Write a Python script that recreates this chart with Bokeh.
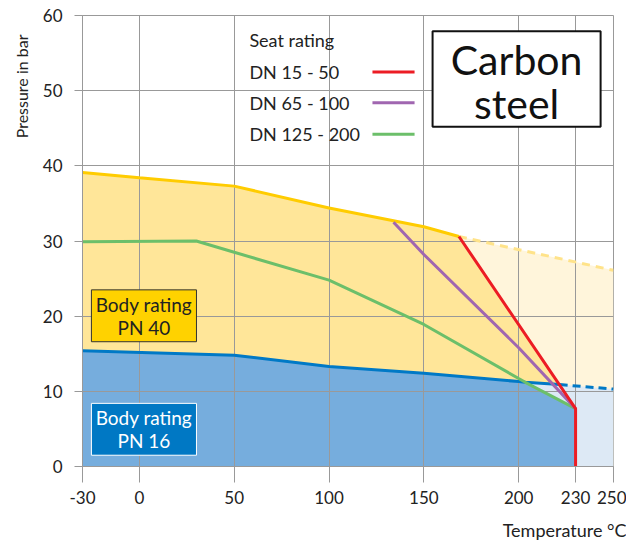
from bokeh.plotting import figure
from bokeh.models import FixedTicker, Label, BoxAnnotation, Range1d, Title
from bokeh.embed import file_html
from bokeh.resources import INLINE

# ---------------- data ----------------
x_ticks = [-30, 0, 50, 100, 150, 200, 230, 250]
y_ticks = [0, 10, 20, 30, 40, 50, 60]

# Body rating PN 40 (upper limit), solid part and extrapolated dashed part
pn40_t = [-30, 0, 50, 100, 150, 168.5]
pn40_p = [39.1, 38.4, 37.3, 34.4, 31.9, 30.6]
pn40_ext_t = [168.5, 250]
pn40_ext_p = [30.6, 26.1]

# Body rating PN 16
pn16_t = [-30, 50, 100, 150, 200, 203.5, 221.6]
pn16_p = [15.4, 14.8, 13.3, 12.4, 11.3, 11.2, 10.9]
pn16_ext_t = [221.6, 250]
pn16_ext_p = [10.9, 10.3]

# Seat ratings
dn15_t = [168.5, 230, 230]
dn15_p = [30.6, 7.7, -0.5]
dn65_t = [134, 150, 200, 230]
dn65_p = [32.5, 28.2, 15.8, 7.7]
dn125_t = [-30, 30, 50, 100, 150, 200, 203.5, 230]
dn125_p = [29.9, 30.0, 28.5, 24.8, 18.9, 11.7, 11.2, 7.7]

legend_title = "Seat rating"
legend_labels = ["DN 15 - 50", "DN 65 - 100", "DN 125 - 200"]

# ---------------- styles ----------------
FONT = "Lato"
C_YEL_LINE = "#FFCC00"
C_YEL_FILL = "#FFE699"
C_YEL_LIGHT = "#FFF5DB"
C_YEL_DASH = "#FFE38A"
C_BLU_LINE = "#0079C6"
C_BLU_FILL = "#76ADDD"
C_BLU_LIGHT = "#DDE9F5"
C_RED = "#EC1C24"
C_PUR = "#A066B0"
C_GRN = "#6CBF6A"
C_GRID = "#999999"
C_TXT = "#222222"
series_colors = [C_RED, C_PUR, C_GRN]

p = figure(width=626, height=541, output_backend="svg", toolbar_location=None,
           x_range=Range1d(-30, 250), y_range=Range1d(0, 60),
           min_border_left=82, min_border_right=13, min_border_top=15, min_border_bottom=75)
p.background_fill_color = "white"
p.border_fill_color = "white"
p.outline_line_color = C_GRID

# ---------------- fills ----------------
ly_x = pn40_ext_t + [pn40_ext_t[-1], pn40_ext_t[0]]
ly_y = pn40_ext_p + [0, 0]
p.patch(ly_x, ly_y, fill_color=C_YEL_LIGHT, line_color=None, level="image")

lb_x = [pn16_t[-2]] + pn16_ext_t + [pn16_ext_t[-1], pn16_t[-2]]
lb_y = [pn16_p[-2]] + pn16_ext_p + [0, 0]
p.patch(lb_x, lb_y, fill_color=C_BLU_LIGHT, line_color=None, level="image")

dy_x = pn40_t + [pn16_t[-1]] + pn16_t[::-1]
dy_y = pn40_p + [pn16_p[-1]] + pn16_p[::-1]
p.patch(dy_x, dy_y, fill_color=C_YEL_FILL, line_color=None, level="image")

db_x = pn16_t[:-1] + dn125_t[-1:] + [dn125_t[-1], pn16_t[0]]
db_y = pn16_p[:-1] + dn125_p[-1:] + [0, 0]
p.patch(db_x, db_y, fill_color=C_BLU_FILL, line_color=None, level="image")

# ---------------- lines ----------------
p.line(pn40_ext_t, pn40_ext_p, line_color=C_YEL_DASH, line_width=3, line_dash="8 6")
p.line(pn16_ext_t, pn16_ext_p, line_color=C_BLU_LINE, line_width=3, line_dash="8 5")
p.line(pn40_t, pn40_p, line_color=C_YEL_LINE, line_width=3)
p.line(pn16_t, pn16_p, line_color=C_BLU_LINE, line_width=3)
p.line(dn125_t, dn125_p, line_color=C_GRN, line_width=3)
p.line(dn65_t, dn65_p, line_color=C_PUR, line_width=3)
p.line(dn15_t, dn15_p, line_color=C_RED, line_width=3)

# ---------------- axes & grid ----------------
p.xaxis.ticker = FixedTicker(ticks=x_ticks)
p.yaxis.ticker = FixedTicker(ticks=y_ticks)
p.xgrid.ticker = FixedTicker(ticks=x_ticks)
p.ygrid.ticker = FixedTicker(ticks=y_ticks)
p.xaxis.major_label_overrides = {t: str(t) for t in x_ticks}
for g in (p.xgrid, p.ygrid):
    g.grid_line_color = C_GRID
    g.grid_line_width = 1
    g.level = "underlay"
for ax in (p.xaxis, p.yaxis):
    ax.axis_line_color = C_GRID
    ax.major_tick_line_color = C_GRID
    ax.minor_tick_line_color = None
    ax.major_tick_in = 0
    ax.major_label_text_font = FONT
    ax.major_label_text_font_size = "17px"
    ax.major_label_text_color = C_TXT
p.xaxis.major_tick_out = 16
p.xaxis.major_label_standoff = 8
p.yaxis.major_tick_out = 8
p.yaxis.major_label_standoff = 12

# axis titles as side titles (a thin blank title below acts as spacer)
p.add_layout(Title(text=" ", standoff=7, text_font_size="1px"), "below")
p.add_layout(Title(text="Temperature °C", align="right", offset=-13, standoff=0,
                   vertical_align="bottom",
                   text_font=FONT, text_font_size="18px", text_font_style="normal",
                   text_color=C_TXT), "below")
p.add_layout(Title(text="Pressure in bar", align="right", offset=19, standoff=14,
                   vertical_align="top",
                   text_font=FONT, text_font_size="16px", text_font_style="normal",
                   text_color=C_TXT), "left")

# ---------------- legend (manual: text left, swatch right) ----------------
p.add_layout(Label(x=58, y=56.7, text=legend_title, text_align="left",
                   text_baseline="middle", text_font=FONT, text_font_size="18px",
                   text_color=C_TXT))
leg_y = [52.5, 48.4, 44.2]
for lab, col, yy in zip(legend_labels, series_colors, leg_y):
    p.add_layout(Label(x=58, y=yy, text=lab, text_align="left", text_baseline="middle",
                       text_font=FONT, text_font_size="18px", text_color=C_TXT))
    p.line([122.9, 145.1], [yy, yy], line_color=col, line_width=3)

# ---------------- "Carbon steel" box ----------------
p.add_layout(BoxAnnotation(left=154.6, right=243.2, bottom=45.2, top=57.9,
                           fill_color="white", fill_alpha=1,
                           line_color="#111111", line_width=2, line_alpha=1))
p.add_layout(Label(x=198.9, y=54.2, text="Carbon", text_align="center",
                   text_baseline="middle", text_font=FONT, text_font_size="41px",
                   text_color="#111111"))
p.add_layout(Label(x=198.9, y=48.3, text="steel", text_align="center",
                   text_baseline="middle", text_font=FONT, text_font_size="41px",
                   text_color="#111111"))

# ---------------- body rating boxes ----------------
p.add_layout(BoxAnnotation(left=-25.3, right=30.1, bottom=16.6, top=23.5,
                           fill_color="#FFD200", fill_alpha=1,
                           line_color="#333333", line_width=1, line_alpha=1))
p.add_layout(Label(x=2.4, y=21.6, text="Body rating", text_align="center",
                   text_baseline="middle", text_font=FONT, text_font_size="19px",
                   text_color=C_TXT))
p.add_layout(Label(x=2.4, y=18.5, text="PN 40", text_align="center",
                   text_baseline="middle", text_font=FONT, text_font_size="19px",
                   text_color=C_TXT))

p.add_layout(BoxAnnotation(left=-25.3, right=30.1, bottom=1.5, top=8.4,
                           fill_color="#0078C4", fill_alpha=1,
                           line_color="white", line_width=1, line_alpha=1))
p.add_layout(Label(x=2.4, y=6.5, text="Body rating", text_align="center",
                   text_baseline="middle", text_font=FONT, text_font_size="19px",
                   text_color="white"))
p.add_layout(Label(x=2.4, y=3.4, text="PN 16", text_align="center",
                   text_baseline="middle", text_font=FONT, text_font_size="19px",
                   text_color="white"))

open("out.html", "w").write(file_html(p, INLINE))
